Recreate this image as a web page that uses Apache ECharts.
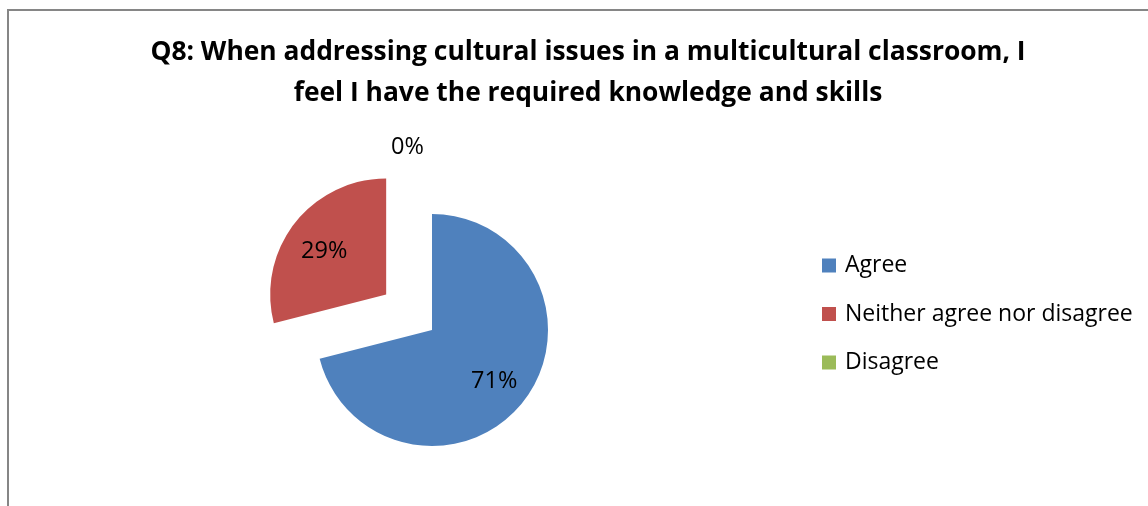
<!DOCTYPE html>
<html>
<head>
<meta charset="utf-8">
<script src="https://cdn.jsdelivr.net/npm/echarts@6/dist/echarts.min.js"></script>
<style>
html,body{margin:0;padding:0;background:#fff;}
#chart{width:1148px;height:506px;}
</style>
</head>
<body>
<div id="chart"></div>
<script>
const titleText = 'Q8: When addressing cultural issues in a multicultural classroom, I\nfeel I have the required knowledge and skills';
const categories = ['Agree', 'Neither agree nor disagree', 'Disagree'];
const values = [71, 29, 0];
const colors = ['#4F81BD', '#C0504D', '#9BBB59'];
const explodedIndex = 1;

const chart = echarts.init(document.getElementById('chart'));
const labelOffsets = [[14, 14], [-4, 0], [-46, -17]];
const option = {
  animation: false,
  backgroundColor: '#ffffff',
  title: {
    text: titleText,
    left: 583,
    textAlign: 'center',
    top: 27,
    textStyle: { fontFamily: 'Open Sans', fontWeight: 'bold', fontSize: 26.4, lineHeight: 41, color: '#000' }
  },
  graphic: [{
    type: 'rect', shape: { x: 8, y: 10, width: 1160, height: 520 },
    style: { fill: 'none', stroke: '#868686', lineWidth: 2 }, silent: true
  }],
  legend: {
    orient: 'vertical',
    left: 817,
    top: 249,
    itemWidth: 14,
    itemHeight: 14,
    itemGap: 25.5,
    icon: 'rect',
    textStyle: { fontFamily: 'Open Sans', fontSize: 23, lineHeight: 20, color: '#000', padding: [0, 0, 0, 4] },
    data: categories
  },
  series: [{
    type: 'pie',
    center: [432, 330],
    radius: 116,
    startAngle: 90,
    clockwise: true,
    selectedMode: 'multiple',
    selectedOffset: 58,
    avoidLabelOverlap: false,
    emphasis: { disabled: true },
    labelLine: { show: false, length: 50, length2: 0 },
    data: categories.map((c, i) => {
      const lbl = {
        show: true,
        position: values[i] === 0 ? 'outside' : 'inside',
        offset: labelOffsets[i],
        formatter: p => Math.round(p.percent) + '%',
        fontFamily: 'Open Sans', fontSize: 23.5, color: '#000'
      };
      return {
        name: c,
        value: values[i],
        selected: i === explodedIndex,
        itemStyle: { color: colors[i] },
        label: lbl,
        select: { itemStyle: { color: colors[i] }, label: lbl }
      };
    })
  }]
};
chart.setOption(option);
</script>
</body>
</html>
